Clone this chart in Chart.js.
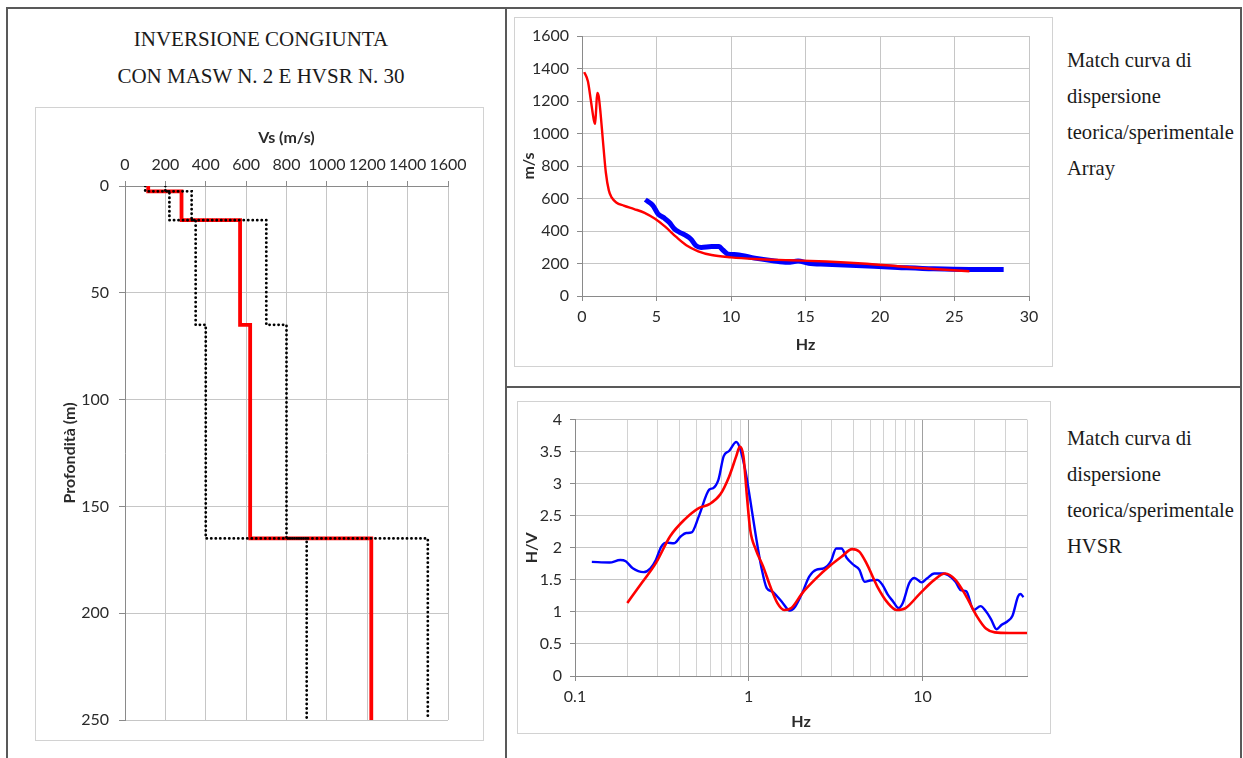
<!DOCTYPE html>
<html>
<head>
<meta charset="utf-8">
<title>Inversione congiunta MASW N. 2 e HVSR N. 30</title>
<script src="https://cdn.jsdelivr.net/npm/chart.js"></script>
<style>
  body {
    margin: 0;
    width: 1243px;
    height: 758px;
    position: relative;
    overflow: hidden;
    background: #fff;
    font-family: 'Liberation Serif', 'Times New Roman', serif;
    color: #1a1a1a;
  }
  /* table frame */
  .rule { position: absolute; background: #595959; }
  /* chart frames (excel style) */
  .box {
    position: absolute;
    border: 1.5px solid #d2d2d2;
    box-sizing: border-box;
    background: #fff;
  }
  .box canvas { display: block; }
  .title {
    position: absolute;
    left: 10px;
    width: 502px;
    top: 21px;
    text-align: center;
    font-size: 21px;
    line-height: 37px;
  }
  .caption {
    position: absolute;
    left: 1067px;
    font-size: 20.6px;
    line-height: 36px;
  }
</style>
</head>
<body>
  <div class="rule" style="left:7px; top:7px; width:1234px; height:2px;"></div>
  <div class="rule" style="left:6px; top:7px; width:2px; height:751px;"></div>
  <div class="rule" style="left:505px; top:7px; width:2px; height:751px;"></div>
  <div class="rule" style="left:1240px; top:7px; width:2px; height:751px;"></div>
  <div class="rule" style="left:505px; top:386px; width:737px; height:2px;"></div>

  <div class="title">INVERSIONE CONGIUNTA<br>CON MASW N. 2 E HVSR N. 30</div>

  <div class="box" style="left:35px; top:107px; width:449px; height:634px;">
    <canvas id="profileChart"></canvas>
  </div>

  <div class="box" style="left:514px; top:17px; width:539px; height:350px;">
    <canvas id="dispChart"></canvas>
  </div>
  <div class="caption" style="top:42px;">Match curva di<br>dispersione<br>teorica/sperimentale<br>Array</div>

  <div class="box" style="left:517px; top:401px; width:534px; height:333px;">
    <canvas id="hvsrChart"></canvas>
  </div>
  <div class="caption" style="top:420px;">Match curva di<br>dispersione<br>teorica/sperimentale<br>HVSR</div>

  <script>
    // ---- Vs profile (depth layers) ----
    const layerTop    = [0, 2.5, 16, 65, 165];
    const layerBottom = [2.5, 16, 65, 165, 250];
    const vsBest = [115, 280, 570, 620, 1220];
    const vsMin  = [100, 220, 350, 400, 900];
    const vsMax  = [200, 330, 700, 800, 1500];

    // ---- dispersion curve (Array) ----
    const dispTheoHz = [0.15, 0.4, 0.6, 0.8, 0.88, 0.95, 1.02, 1.12, 1.25, 1.4, 1.6, 1.8, 2.0, 2.3, 2.8, 3.5, 4.2, 4.9, 5.6, 6.3, 7.0, 7.8, 8.7, 10, 11.6, 14, 16.4, 18.8, 21.2, 23.6, 26];
    const dispTheoVs = [1378, 1320, 1200, 1080, 1060, 1150, 1250, 1230, 1120, 960, 760, 650, 605, 575, 556, 535, 512, 475, 425, 365, 312, 275, 252, 238, 228, 220, 212, 200, 183, 166, 152];
    const dispExpHz = [4.25, 4.75, 5.1, 5.5, 5.85, 6.2, 6.55, 6.9, 7.3, 7.65, 8.0, 8.7, 9.2, 9.45, 9.8, 10.4, 11.6, 12.8, 13.8, 14.5, 15.2, 16.4, 18.8, 21.2, 23.6, 26, 28.3];
    const dispExpVs = [593, 558, 506, 481, 454, 413, 392, 376, 351, 310, 299, 304, 304, 283, 258, 254, 233, 217, 207, 215, 202, 196, 186, 176, 167, 163, 163];

    // ---- HVSR ----
    const hvExpHz = [0.125, 0.158, 0.182, 0.196, 0.215, 0.248, 0.272, 0.292, 0.314, 0.337, 0.371, 0.407, 0.437, 0.469, 0.516, 0.594, 0.623, 0.669, 0.718, 0.771, 0.848, 0.889, 0.954, 1.02, 1.10, 1.18, 1.27, 1.36, 1.46, 1.57, 1.72, 1.85, 2.03, 2.23, 2.46, 2.70, 2.97, 3.19, 3.42, 3.67, 4.03, 4.33, 4.65, 4.99, 5.49, 5.89, 6.32, 6.79, 7.28, 7.71, 8.40, 9.0, 9.9, 10.6, 11.7, 13.2, 14.1, 15.5, 16.6, 17.9, 19.7, 21.6, 23.2, 24.9, 26.7, 28.6, 30.8, 33.0, 35.5, 36.6, 38.2];
    const hvExpHV = [1.78, 1.77, 1.81, 1.79, 1.68, 1.62, 1.68, 1.81, 2.02, 2.08, 2.07, 2.18, 2.23, 2.24, 2.49, 2.91, 2.93, 3.06, 3.43, 3.51, 3.65, 3.56, 3.22, 2.75, 2.18, 1.71, 1.37, 1.32, 1.24, 1.14, 1.02, 1.08, 1.29, 1.55, 1.66, 1.68, 1.79, 1.99, 1.99, 1.84, 1.73, 1.66, 1.47, 1.49, 1.50, 1.42, 1.27, 1.16, 1.06, 1.14, 1.45, 1.53, 1.46, 1.52, 1.60, 1.60, 1.57, 1.47, 1.34, 1.32, 1.03, 1.09, 1.01, 0.88, 0.73, 0.80, 0.85, 0.94, 1.24, 1.28, 1.23];
    const hvTheoHz = [0.200, 0.242, 0.292, 0.353, 0.427, 0.516, 0.594, 0.685, 0.771, 0.848, 0.889, 0.932, 0.977, 1.02, 1.10, 1.21, 1.33, 1.46, 1.60, 1.76, 2.03, 2.46, 2.97, 3.42, 3.94, 4.33, 4.76, 5.49, 6.32, 7.11, 8.0, 9.7, 11.7, 13.5, 15.5, 17.9, 20.6, 23.2, 26.1, 31.6, 40];
    const hvTheoHV = [1.14, 1.45, 1.76, 2.18, 2.44, 2.62, 2.68, 2.83, 3.11, 3.43, 3.58, 3.43, 2.80, 2.28, 1.97, 1.71, 1.40, 1.14, 1.03, 1.06, 1.29, 1.53, 1.73, 1.86, 1.98, 1.94, 1.76, 1.40, 1.14, 1.03, 1.06, 1.29, 1.50, 1.60, 1.50, 1.24, 0.93, 0.74, 0.68, 0.67, 0.67];

    // log axis grid positions and the labelled ones
    const hvGridTicks = [0.1, 0.2, 0.3, 0.4, 0.5, 0.6, 0.7, 0.8, 0.9, 1, 2, 3, 4, 5, 6, 7, 8, 9, 10, 20, 30, 40];
    const hvLabels = [0.1, 1, 10];

    Chart.defaults.font.family = 'Lato, "Open Sans", sans-serif';
    Chart.defaults.font.size = 16;
    Chart.defaults.color = '#2a2a2a';
    Chart.defaults.animation = false;

    const GRID = '#c6c6c6';
    const AXIS = '#8a8a8a';
    const titleFont = { size: 16, weight: 'bold' };
    const plain = v => String(v);   // no thousands separator, no trailing .0

    function pairs(xs, ys) {
      return xs.map((x, i) => ({ x: x, y: ys[i] }));
    }

    // step profile: each layer gives two points (top and bottom) at the same Vs
    function profile(vs) {
      const pts = [];
      vs.forEach((v, i) => {
        pts.push({ x: v, y: layerTop[i] });
        pts.push({ x: v, y: layerBottom[i] });
      });
      return pts;
    }

    const dotted = {
      borderColor: '#000',
      borderWidth: 2.8,
      borderDash: [0.1, 4.4],
      borderCapStyle: 'round',
      pointRadius: 0,
      showLine: true,
      tension: 0
    };

    // ----- Vs profile chart -----
    new Chart(document.getElementById('profileChart'), {
      type: 'scatter',
      data: {
        datasets: [
          Object.assign({ label: 'Vs min', data: profile(vsMin) }, dotted),
          Object.assign({ label: 'Vs max', data: profile(vsMax) }, dotted),
          {
            label: 'Vs',
            data: profile(vsBest),
            borderColor: '#ff0000',
            borderWidth: 3.8,
            pointRadius: 0,
            showLine: true,
            tension: 0
          }
        ]
      },
      options: {
        responsive: true,
        maintainAspectRatio: false,
        layout: { padding: { left: 0, right: 35, top: 0, bottom: 20 } },
        plugins: { legend: { display: false }, tooltip: { enabled: false } },
        scales: {
          x: {
            type: 'linear',
            position: 'top',
            min: 0,
            max: 1600,
            ticks: { stepSize: 200, padding: 7, maxRotation: 0, autoSkip: false, callback: plain },
            grid: { color: GRID, tickColor: AXIS, tickLength: 5 },
            border: { color: AXIS },
            title: { display: true, text: 'Vs (m/s)', font: titleFont, padding: { top: 20, bottom: 0 } },
            afterFit: s => { s.height = 78; }
          },
          y: {
            type: 'linear',
            reverse: true,
            min: 0,
            max: 250,
            ticks: { stepSize: 50, padding: 10, callback: plain },
            grid: { color: GRID, tickColor: AXIS, tickLength: 6 },
            border: { color: AXIS },
            title: { display: true, text: 'Profondità (m)', font: titleFont, padding: { top: 24, bottom: 0 } },
            afterFit: s => { s.width = 89; }
          }
        }
      }
    });

    // ----- dispersion curve chart -----
    new Chart(document.getElementById('dispChart'), {
      type: 'scatter',
      data: {
        datasets: [
          {
            label: 'teorica',
            data: pairs(dispTheoHz, dispTheoVs),
            borderColor: '#ff0000',
            borderWidth: 2.4,
            pointRadius: 0,
            showLine: true,
            cubicInterpolationMode: 'monotone'
          },
          {
            label: 'sperimentale',
            data: pairs(dispExpHz, dispExpVs),
            borderColor: '#0000ff',
            borderWidth: 5,
            pointRadius: 0,
            showLine: true,
            cubicInterpolationMode: 'monotone'
          }
        ]
      },
      options: {
        responsive: true,
        maintainAspectRatio: false,
        layout: { padding: { left: 0, right: 23, top: 18, bottom: 0 } },
        plugins: { legend: { display: false }, tooltip: { enabled: false } },
        scales: {
          x: {
            type: 'linear',
            min: 0,
            max: 30,
            ticks: { stepSize: 5, padding: 6, maxRotation: 0, autoSkip: false, callback: plain },
            grid: { color: GRID, tickColor: AXIS, tickLength: 5 },
            border: { color: AXIS },
            title: { display: true, text: 'Hz', font: titleFont, padding: { top: 2, bottom: 12 } },
            afterFit: s => { s.height = 70; }
          },
          y: {
            type: 'linear',
            min: 0,
            max: 1600,
            ticks: { stepSize: 200, padding: 8, callback: plain },
            grid: { color: GRID, tickColor: AXIS, tickLength: 5 },
            border: { color: AXIS },
            title: { display: true, text: 'm/s', font: titleFont, padding: { top: 4, bottom: 0 } },
            afterFit: s => { s.width = 67; }
          }
        }
      }
    });

    // ----- HVSR chart -----
    new Chart(document.getElementById('hvsrChart'), {
      type: 'scatter',
      data: {
        datasets: [
          {
            label: 'teorica',
            data: pairs(hvTheoHz, hvTheoHV),
            borderColor: '#ff0000',
            borderWidth: 2.6,
            pointRadius: 0,
            showLine: true,
            cubicInterpolationMode: 'monotone'
          },
          {
            label: 'sperimentale',
            data: pairs(hvExpHz, hvExpHV),
            borderColor: '#0000ff',
            borderWidth: 2.4,
            pointRadius: 0,
            showLine: true,
            cubicInterpolationMode: 'monotone'
          }
        ]
      },
      options: {
        responsive: true,
        maintainAspectRatio: false,
        layout: { padding: { left: 0, right: 23, top: 17, bottom: 0 } },
        plugins: { legend: { display: false }, tooltip: { enabled: false } },
        scales: {
          x: {
            type: 'logarithmic',
            min: 0.1,
            max: 40,
            afterBuildTicks: s => { s.ticks = hvGridTicks.map(v => ({ value: v })); },
            ticks: {
              autoSkip: false,
              maxRotation: 0,
              padding: 6,
              callback: v => (hvLabels.includes(v) ? String(v) : '')
            },
            grid: {
              color: c => (c.tick && hvLabels.includes(c.tick.value) && c.tick.value !== 0.1 ? '#a0a0a0' : '#d2d2d2'),
              tickColor: c => (c.tick && hvLabels.includes(c.tick.value) ? AXIS : 'rgba(0,0,0,0)'),
              tickLength: 5
            },
            border: { color: AXIS },
            title: { display: true, text: 'Hz', font: titleFont, padding: { top: 2, bottom: 2 } },
            afterFit: s => { s.height = 57; }
          },
          y: {
            type: 'linear',
            min: 0,
            max: 4,
            ticks: { stepSize: 0.5, padding: 8, callback: plain },
            grid: { color: GRID, tickColor: AXIS, tickLength: 5 },
            border: { color: AXIS },
            title: { display: true, text: 'H/V', font: titleFont, padding: { top: 4, bottom: 0 } },
            afterFit: s => { s.width = 57; }
          }
        }
      }
    });
  </script>
</body>
</html>
